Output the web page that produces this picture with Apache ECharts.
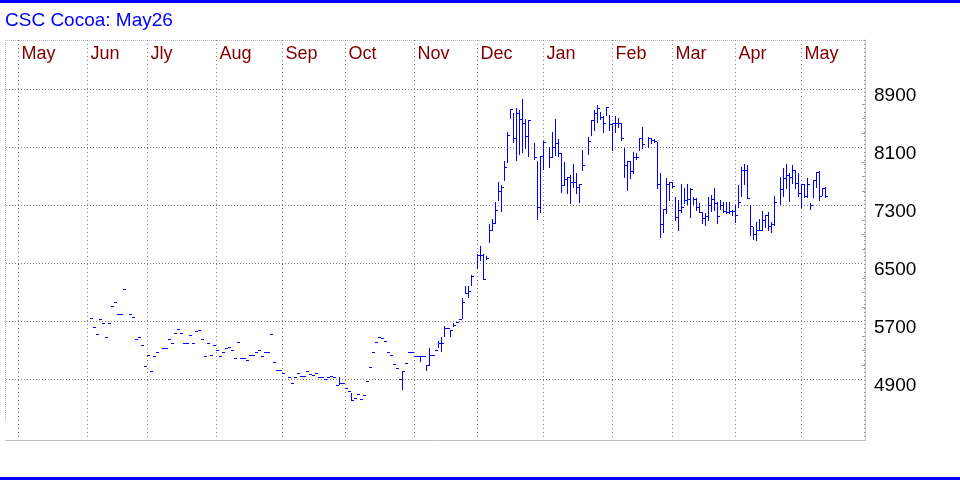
<!DOCTYPE html>
<html><head><meta charset="utf-8">
<script src="https://cdn.jsdelivr.net/npm/echarts@6/dist/echarts.min.js"></script>
<style>html,body{margin:0;padding:0;background:#fff}#c{width:960px;height:480px}</style>
</head><body><div id="c"></div>
<script>
const titleText = 'CSC Cocoa: May26';
const monthNames = ['Jan','Feb','Mar','Apr','May','Jun','Jly','Aug','Sep','Oct','Nov','Dec'];
const axisStart = '2024-04-25';
const axisEnd = '2025-05-29';
const firstBarDate = '2024-06-04';
const yLabelValues = [4900, 5700, 6500, 7300, 8100, 8900];
const yMinorTickValues = [5100,5300,5500,5900,6100,6300,6700,6900,7100,7500,7700,7900,8300,8500,8700];

// daily bars (high / low / close), one entry per weekday from firstBarDate, null = no bar
const high = [
5750,5625,5530,5725,5670,5490,5670,5905,5970,5795,
5805,6140,null,5795,5765,5460,5490,5380,5090,5240,
5020,5225,5270,null,5335,5325,5460,5405,5545,5600,
5545,5395,5395,5505,5405,5560,5585,5460,5215,5395,
5240,5380,5310,5225,5270,5335,5350,5310,5200,5420,
5200,5200,5170,5240,5240,5270,5310,5225,5270,5280,
5530,5145,5035,5035,4990,null,4925,4855,4925,4990,
4950,4950,5020,4980,4965,4990,4925,4930,4900,4925,
4940,4925,4825,4925,4855,4785,4740,4710,4645,4695,
4625,4680,4870,5075,5280,5420,5490,5475,5435,5280,
5240,5115,5060,4910,5010,5130,5280,5270,5225,5225,
5225,5225,5095,5325,5240,5300,5430,5485,5630,5610,
5575,5680,5685,5725,6015,6185,6185,6335,null,6635,
6735,6635,6600,7040,7105,7350,7625,7580,7915,8315,
8625,8570,8640,8610,8765,8485,8475,null,8165,7915,
7980,8190,null,8110,8315,8485,8210,8015,7900,7695,
7715,7870,7740,7600,8060,null,8245,8475,8610,8685,
8590,8525,8650,8545,8430,8530,8500,8430,8085,7910,
7910,8040,8015,8225,8385,null,8245,8235,8210,8175,
7740,7245,7670,7625,7625,7410,7370,7595,7535,7600,
7535,7410,7395,7325,7210,7195,7420,7440,7535,7350,
7370,7350,7350,7350,7235,7305,7580,7830,7870,7855,
7305,7005,7075,7105,7225,7165,7210,7075,7425,null,
7695,7810,7870,7740,7855,7785,7740,7600,7595,7670,
7325,7655,7765,7775,7535,7555
];
const low = [
5750,5625,5530,5725,5670,5490,5670,5905,5970,5795,
5805,6140,null,5795,5765,5460,5490,5380,5090,5240,
5020,5225,5270,null,5335,5325,5460,5405,5545,5600,
5545,5395,5395,5505,5405,5560,5585,5460,5215,5395,
5240,5380,5310,5225,5270,5335,5350,5310,5200,5420,
5200,5200,5170,5240,5240,5270,5310,5225,5270,5280,
5530,5145,5035,5035,4990,null,4925,4855,4925,4990,
4950,4950,5020,4980,4965,4990,4925,4930,4900,4925,
4940,4925,4825,4840,4855,4785,4740,4610,4645,4695,
4625,4680,4870,5075,5280,5420,5490,5475,5435,5280,
5240,5115,5060,4910,4760,5130,5280,5270,5225,5225,
5155,5225,5025,5095,5240,5300,5340,5290,5500,5610,
5500,5630,5685,5725,5740,6085,6030,6200,null,6430,
6545,6290,6560,6795,6965,7050,7380,7225,7650,7900,
8500,8180,7925,8005,8040,8085,7980,null,7945,7105,
7210,7795,null,7830,7960,7995,7980,7485,7580,7465,
7325,7555,7465,7350,7785,null,8005,8270,8340,8455,
8485,8315,8545,8340,8060,8315,8385,8200,7695,7510,
7670,7740,7945,8060,8085,null,8110,8155,8175,7535,
6865,6935,7195,7370,7555,7095,6960,7210,7325,7315,
7135,7315,7235,7205,7050,7025,7095,7225,7235,7060,
7255,7210,7190,7190,7165,7075,7280,7425,7600,7395,
6890,6840,6820,6960,6960,7005,6960,6935,7025,null,
7315,7425,7535,7365,7610,7535,7425,7280,7410,7420,
7245,7420,7555,7380,7440,7420
];
const close = [
5750,5625,5530,5725,5670,5490,5670,5905,5970,5795,
5805,6140,null,5795,5765,5460,5490,5380,5090,5240,
5020,5225,5270,null,5335,5325,5460,5405,5545,5600,
5545,5395,5395,5505,5405,5560,5585,5460,5215,5395,
5240,5380,5310,5225,5270,5335,5350,5310,5200,5420,
5200,5200,5170,5240,5240,5270,5310,5225,5270,5280,
5530,5145,5035,5035,4990,null,4925,4855,4925,4990,
4950,4950,5020,4980,4965,4990,4925,4930,4900,4925,
4940,4925,4825,4855,4855,4785,4740,4610,4645,4695,
4625,4680,4870,5075,5280,5420,5490,5475,5435,5280,
5240,5115,5060,4910,5010,5130,5280,5270,5225,5225,
5225,5225,5095,5240,5240,5300,5400,5395,5610,5610,
5575,5655,5685,5725,5960,6085,6120,6325,null,6610,
6610,6290,6580,6965,7060,7235,7500,7555,7825,8270,
8625,8235,8570,8490,8430,8255,8475,null,7960,7280,
7980,8180,null,7970,8110,8155,8015,7580,7660,7695,
7625,7625,7555,7590,7855,null,8190,8470,8570,8640,
8515,8430,8650,8420,8430,8430,8430,8235,7855,7905,
7775,7970,7970,8225,8145,null,8235,8200,8190,7595,
7040,7245,7600,7615,7565,7135,7235,7280,7370,7385,
7525,7385,7270,7205,7120,7150,7305,7385,7325,7150,
7305,7220,7205,7225,7220,7165,7350,7785,7785,7395,
7015,6910,6960,6960,7095,7165,7015,7040,7350,null,
7525,7670,7715,7685,7785,7610,7465,7595,7425,7595,
7310,7655,7765,7425,7535,7425
];

const FONT = "'Liberation Sans', Arial, sans-serif";
const yMin = 4062.76, yMax = 9580;

// weekday categories for the time axis
const categories = [];
(function(){
  let t = Date.parse(axisStart + 'T00:00:00Z');
  const end = Date.parse(axisEnd + 'T00:00:00Z');
  while (t <= end) {
    const dd = new Date(t);
    const w = dd.getUTCDay();
    if (w > 0 && w < 6) categories.push(dd.toISOString().slice(0, 10));
    t += 86400000;
  }
})();
const monthStart = categories.map((c, i) => i > 0 && c.slice(5, 7) !== categories[i - 1].slice(5, 7));
const firstIdx = categories.indexOf(firstBarDate);
const bars = [];
for (let j = 0; j < high.length; j++) {
  if (high[j] == null) continue;
  bars.push([firstIdx + j, high[j], low[j], close[j]]);
}

const chart = echarts.init(document.getElementById('c'), null, {renderer: 'canvas'});
chart.setOption({
  animation: false,
  backgroundColor: '#ffffff',
  title: {
    text: titleText, left: 5, top: 11, padding: 0,
    textStyle: {color: '#0000ff', fontSize: 19, fontWeight: 'normal', fontFamily: FONT, lineHeight: 19}
  },
  grid: {left: 6, top: 40, width: 858, height: 400, containLabel: false},
  xAxis: {
    type: 'category', data: categories, position: 'top', boundaryGap: true,
    axisLine: {show: false}, axisTick: {show: false},
    axisLabel: {
      inside: true, interval: (i) => monthStart[i],
      formatter: (v) => monthNames[parseInt(v.slice(5, 7), 10) - 1],
      color: '#800000', fontSize: 18, fontFamily: FONT, align: 'left', verticalAlign: 'top',
      lineHeight: 18, margin: 5, padding: [0, 0, 0, 2]
    },
    splitLine: {show: true, interval: (i) => monthStart[i], lineStyle: {color: '#808080', width: 1, type: [1, 3]}}
  },
  yAxis: [
    {
      type: 'value', min: yMin, max: yMax, position: 'right',
      axisLine: {show: false},
      axisTick: {show: false, customValues: yLabelValues},
      axisLabel: {customValues: yLabelValues, formatter: (v) => String(Math.round(v)),
        color: '#000000', fontSize: 19, fontFamily: FONT,
        margin: 10, verticalAlign: 'top', lineHeight: 13},
      splitLine: {show: true, lineStyle: {color: '#808080', width: 1, type: [1, 2]}}
    },
    {
      type: 'value', min: yMin, max: yMax, position: 'right', offset: 1,
      axisLine: {show: true, lineStyle: {color: '#c0c0c0', width: 1}},
      axisTick: {show: true, inside: true, length: 3, customValues: yMinorTickValues, lineStyle: {color: '#a0a0a0'}},
      axisLabel: {show: false}, splitLine: {show: false}
    }
  ],
  graphic: [
    {type: 'rect', silent: true, shape: {x: 0, y: 0, width: 960, height: 3}, style: {fill: '#0000ff'}},
    {type: 'rect', silent: true, shape: {x: 0, y: 477, width: 960, height: 3}, style: {fill: '#0000ff'}},
    {type: 'line', silent: true, shape: {x1: 5, y1: 40.5, x2: 865, y2: 40.5}, style: {stroke: '#b8b8b8', lineWidth: 1, lineDash: [1, 1]}},
    {type: 'line', silent: true, shape: {x1: 5.5, y1: 40, x2: 5.5, y2: 421}, style: {stroke: '#b8b8b8', lineWidth: 1, lineDash: [1, 1]}},
    {type: 'line', silent: true, shape: {x1: 5, y1: 440.5, x2: 866, y2: 440.5}, style: {stroke: '#c0c0c0', lineWidth: 1}}
  ],
  series: [{
    type: 'custom', xAxisIndex: 0, yAxisIndex: 0, data: bars, clip: false, silent: true,
    encode: {x: 0, y: [1, 2, 3]},
    renderItem: function (params, api) {
      const i = api.value(0);
      const pH = api.coord([i, api.value(1)]);
      const pL = api.coord([i, api.value(2)]);
      const pC = api.coord([i, api.value(3)]);
      const bw = api.size([1, 0])[0];
      const x0 = Math.round(pH[0] - bw / 2);
      const yH = Math.round(pH[1]), yL = Math.round(pL[1]), yC = Math.round(pC[1]);
      return {
        type: 'group',
        children: [
          {type: 'rect', shape: {x: x0, y: yH, width: 1, height: yL - yH + 1}, style: {fill: '#0000ff'}},
          {type: 'rect', shape: {x: x0 + 1, y: yC, width: 2, height: 1}, style: {fill: '#0000ff'}}
        ]
      };
    }
  }]
});
</script>
</body></html>
